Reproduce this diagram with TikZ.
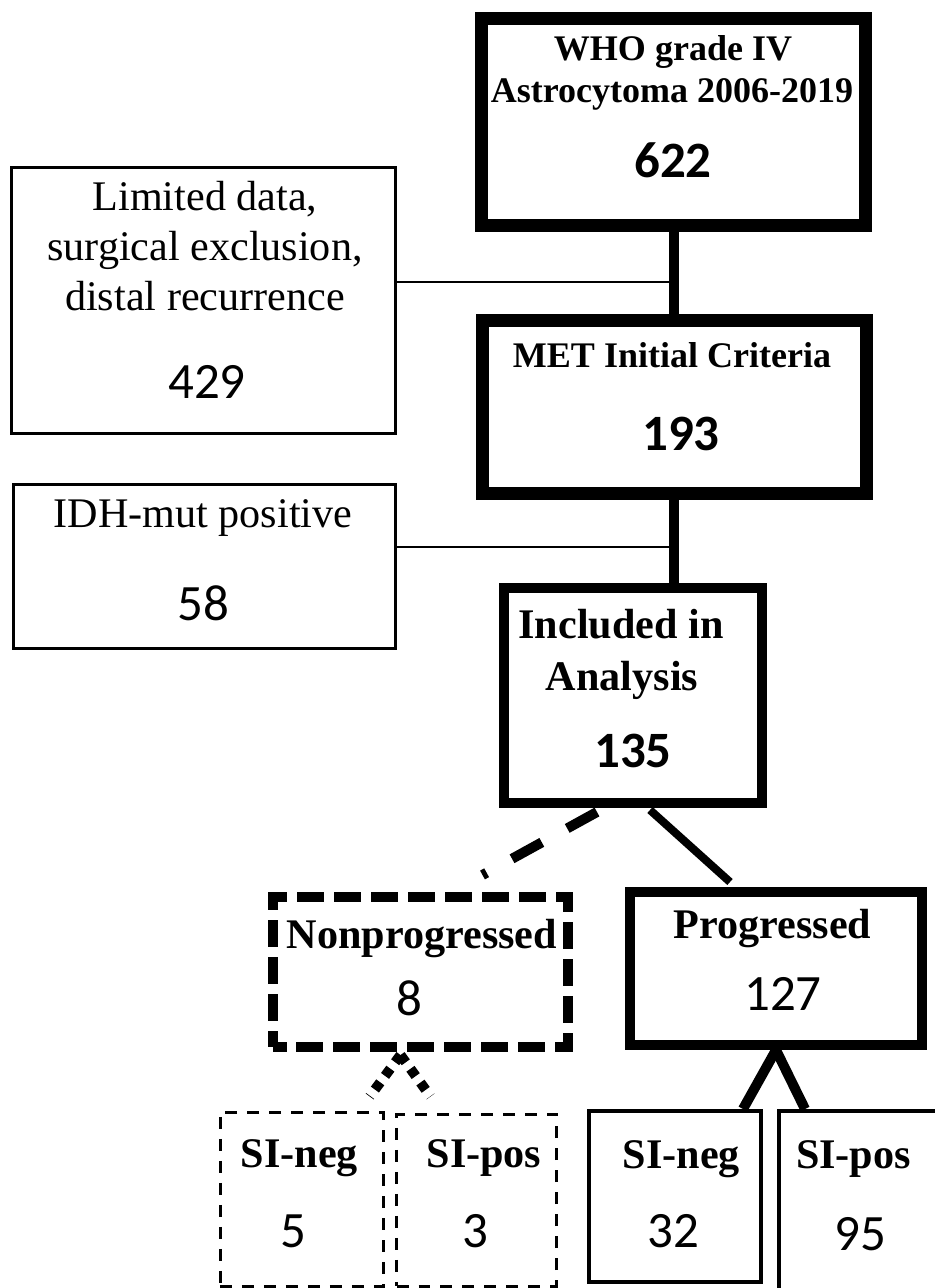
\documentclass[tikz,border=0pt]{standalone}
\usepackage{fontspec}
\setmainfont{Liberation Serif}
\newfontfamily\numfont{Carlito}

\begin{document}
\begin{tikzpicture}[x=0.02cm, y=-0.02cm,
    every node/.style={inner sep=0pt},
    boxsize/.style 2 args={minimum width=#1*0.02cm, minimum height=#2*0.02cm},
    heavybox/.style={draw, line width=0.26cm},
    midbox/.style={draw, line width=0.2cm},
    thinbox/.style={draw, line width=0.06cm},
    lbl/.style={anchor=base, font=\fontsize{24}{28}\selectfont},
    boldlbl/.style={anchor=base, font=\bfseries\fontsize{24}{28}\selectfont},
    hdr/.style={anchor=base, font=\bfseries\fontsize{20.5}{24}\selectfont},
    numtext/.style={anchor=base, font=\numfont\fontsize{29}{32}\selectfont},
    boldnum/.style={anchor=base, font=\numfont\bfseries\fontsize{29}{32}\selectfont}]

  \useasboundingbox (0,0) rectangle (935,1288);

  % ========== Main column ==========
  \node[heavybox, boxsize={384}{207}] (who) at (673.5,122) {};
  \node[hdr] (who-a) at (673,60) {WHO grade IV};
  \node[hdr] (who-b) at (672,102) {Astrocytoma 2006-2019};
  \node[boldnum] (who-n) at (673,177) {622};

  \node[heavybox, boxsize={384}{172.5}] (met) at (674,406.75) {};
  \node[hdr] (met-a) at (672,367) {MET Initial Criteria};
  \node[boldnum] (met-n) at (681,450) {193};

  \node[midbox, boxsize={258}{215}] (inc) at (633,695.5) {};
  \node[boldlbl] (inc-a) at (621,638) {Included in};
  \node[boldlbl] (inc-b) at (622,690) {Analysis};
  \node[boldnum] (inc-n) at (633,767) {135};

  % ========== Exclusions ==========
  \node[thinbox, boxsize={384}{266}] (lim) at (203.5,300.5) {};
  \node[lbl] (lim-a) at (205,210) {Limited data,};
  \node[lbl] (lim-b) at (205,260) {surgical exclusion,};
  \node[lbl] (lim-c) at (205,310) {distal recurrence};
  \node[numtext] (lim-n) at (207,398) {429};

  \node[thinbox, boxsize={382}{164}] (idh) at (204.5,566.5) {};
  \node[lbl] (idh-a) at (203,527) {IDH-mut positive};
  \node[numtext] (idh-n) at (203,620) {58};

  % ========== Outcome split ==========
  \node[midbox, dash pattern=on 0.54cm off 0.2cm, dash phase=0.27cm, boxsize={295}{150}] (non) at (420.5,972) {};
  \node[boldlbl] (non-a) at (422,948) {Nonprogressed};
  \node[numtext] (non-n) at (409,1015) {8};

  \node[midbox, boxsize={292}{153}] (prog) at (776,968.5) {};
  \node[boldlbl] (prog-a) at (772.5,938) {Progressed};
  \node[numtext] (prog-n) at (783,1010) {127};

  % ========== SI groups ==========
  \node[thinbox, dash pattern=on 0.24cm off 0.2cm, boxsize={163.5}{174}] (sn1) at (301.75,1199) {};
  \node[boldlbl] (sn1-a) at (299.5,1167) {SI-neg};
  \node[numtext] (sn1-n) at (293.5,1247) {5};

  \node[thinbox, dash pattern=on 0.24cm off 0.2cm, boxsize={160}{172}] (sp1) at (476.5,1200) {};
  \node[boldlbl] (sp1-a) at (484,1167) {SI-pos};
  \node[numtext] (sp1-n) at (475,1247) {3};

  \node[draw, line width=0.08cm, boxsize={171.5}{171}] (sn2) at (675,1196.5) {};
  \node[boldlbl] (sn2-a) at (681.5,1168) {SI-neg};
  \node[numtext] (sn2-n) at (673,1247) {32};

  \node[draw, line width=0.08cm, boxsize={171}{179}] (sp2) at (864.5,1200.5) {};
  \node[boldlbl] (sp2-a) at (853.5,1168) {SI-pos};
  \node[numtext] (sp2-n) at (860,1250) {95};

  % ========== Connectors ==========
  \coordinate (j1) at (672,282);
  \coordinate (j2) at (672,547);
  \draw[line width=0.2cm] (who.south) -- (who.south |- met.north);
  \draw[line width=0.2cm] (met.south) -- (met.south |- inc.north);
  \draw[line width=0.04cm] (lim.east |- j1) -- (j1);
  \draw[line width=0.04cm] (idh.east |- j2) -- (j2);

  \draw[line width=0.2cm, dash pattern=on 0.68cm off 0.58cm]
    ([shift={(-36,4)}]inc.south) -- ([shift={(62,-17)}]non.north);
  \draw[line width=0.16cm] ([shift={(17,2)}]inc.south) -- ([shift={(-46,-5)}]prog.north);

  % dotted fork under Nonprogressed
  \draw[line width=0.2cm, dash pattern=on 0.18cm off 0.16cm]
    ([shift={(-20,3)}]non.south) -- ([shift={(68,-14)}]sn1.north);
  \draw[line width=0.2cm, dash pattern=on 0.18cm off 0.16cm]
    ([shift={(-20,3)}]non.south) -- ([shift={(-46,-16)}]sp1.north);

  \draw[line width=0.2cm] (prog.south) -- ([shift={(68,0)}]sn2.north);
  \draw[line width=0.2cm] (prog.south) -- ([shift={(-59.5,0)}]sp2.north);

\end{tikzpicture}
\end{document}
